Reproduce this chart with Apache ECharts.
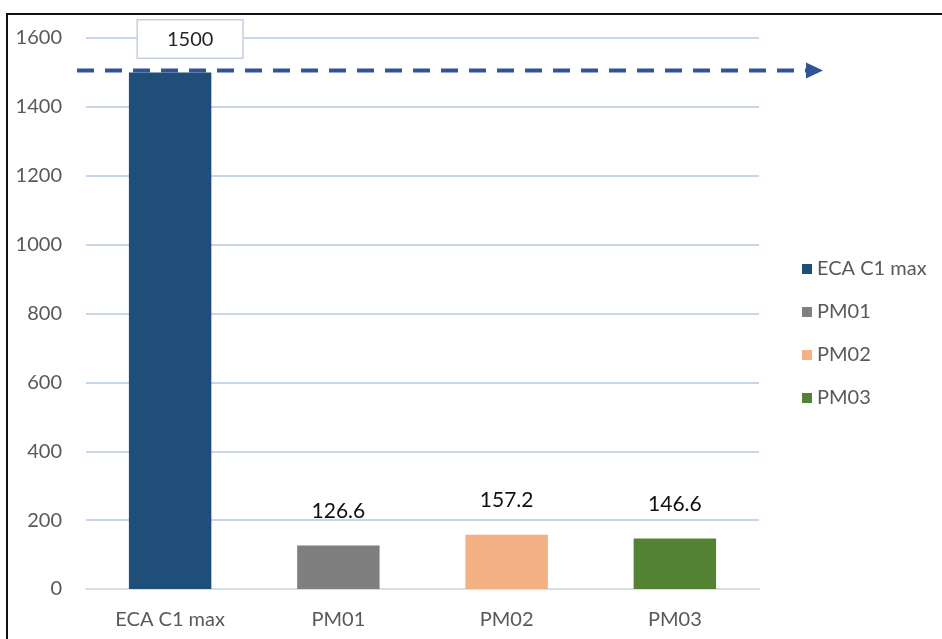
<!DOCTYPE html>
<html>
<head>
<meta charset="utf-8">
<style>
  html, body { margin: 0; padding: 0; background: #fff; }
  #chart { width: 942px; height: 639px; }
</style>
<script src="https://cdn.jsdelivr.net/npm/echarts@6/dist/echarts.min.js"></script>
</head>
<body>
<div id="chart"></div>
<script>
// Categories and measured values
const categories = ['ECA C1 max', 'PM01', 'PM02', 'PM03'];
const values = [1500, 126.6, 157.2, 146.6];
const barColors = ['#1f4e79', '#7f7f7f', '#f4b183', '#548235'];
const limitValue = 1500;
const yTicks = { min: 0, max: 1600, interval: 200 };

const FONT = 'Lato, "Noto Sans", sans-serif';

// One series per category so each gets its own legend entry; stacking keeps bars centred.
const series = categories.map((name, i) => ({
  name: name,
  type: 'bar',
  stack: 'all',
  barWidth: '49%',
  itemStyle: { color: barColors[i] },
  data: categories.map((_, j) => (j === i ? values[i] : '-')),
  label: i === 0 ? {
    show: true,
    position: 'top',
    distance: 15,
    offset: [20, 0],
    color: '#262626',
    fontFamily: FONT,
    fontSize: 20,
    lineHeight: 20,
    backgroundColor: '#fff',
    borderColor: '#c5d0e2',
    borderWidth: 1.5,
    padding: [9, 29, 8, 29]
  } : {
    show: true,
    position: 'top',
    distance: 24,
    color: '#111',
    fontFamily: FONT,
    fontSize: 21
  }
}));

const chart = echarts.init(document.getElementById('chart'), null, { renderer: 'canvas' });

chart.setOption({
  animation: false,
  backgroundColor: '#fff',
  grid: { left: 86, right: 183, top: 38, bottom: 50, containLabel: false },
  legend: {
    orient: 'vertical',
    left: 797,
    top: 253,
    itemWidth: 10,
    itemHeight: 10,
    itemGap: 21,
    icon: 'rect',
    textStyle: { color: '#595959', fontFamily: FONT, fontSize: 20, lineHeight: 22 },
    data: categories
  },
  xAxis: {
    type: 'category',
    data: categories,
    axisTick: { show: false },
    axisLine: { lineStyle: { color: '#d9dde4', width: 2 } },
    axisLabel: { color: '#595959', fontFamily: FONT, fontSize: 20, margin: 21 }
  },
  yAxis: {
    type: 'value',
    min: yTicks.min,
    max: yTicks.max,
    interval: yTicks.interval,
    axisLine: { show: false },
    axisTick: { show: false },
    axisLabel: {
      color: '#595959', fontFamily: FONT, fontSize: 20, margin: 24,
      formatter: (v) => String(v)
    },
    splitLine: { lineStyle: { color: '#b4c7e7', width: 1.5 } }
  },
  series: series
});

// Dashed limit line with arrow head, placed through the value axis
const yPix = chart.convertToPixel({ yAxisIndex: 0 }, limitValue);
const gridLeft = 86;
const lineStart = gridLeft - 9;
const lineEnd = 806;
chart.setOption({
  graphic: [
    {
      type: 'line',
      z: 10,
      shape: { x1: lineStart, y1: yPix - 2, x2: lineEnd, y2: yPix - 2 },
      style: { stroke: '#2f5597', lineWidth: 4, lineDash: [17, 11] }
    },
    {
      type: 'polygon',
      z: 10,
      shape: { points: [[lineEnd, yPix - 10], [lineEnd + 17, yPix - 2], [lineEnd, yPix + 6]] },
      style: { fill: '#2f5597' }
    },
    {
      type: 'rect',
      z: 20,
      shape: { x: 7, y: 14, width: 1000, height: 1000 },
      style: { fill: 'none', stroke: '#111', lineWidth: 2 }
    }
  ]
});
</script>
</body>
</html>
